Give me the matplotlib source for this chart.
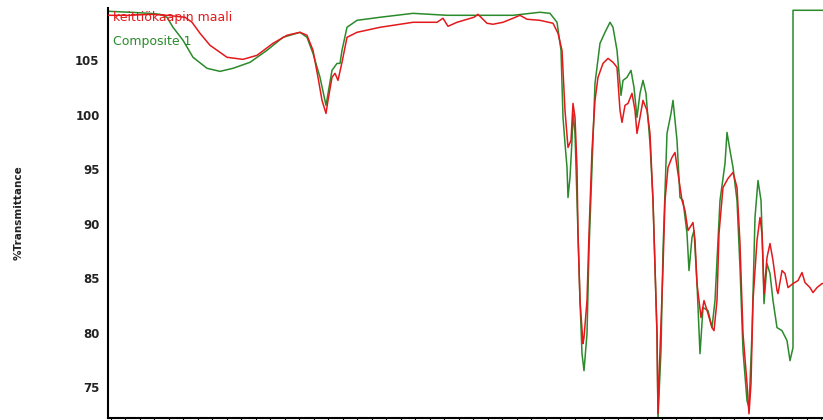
"""
FTIR overlay: kitchen cabinet paint vs. Composite 1
"""

import matplotlib
matplotlib.use("Agg")
import matplotlib.pyplot as plt
from matplotlib.ticker import MultipleLocator

# Wavenumber (cm-1) and %T
paint_wn = [4000, 3890, 3790, 3705, 3615, 3580, 3540, 3490, 3405, 3325, 3255, 3175,
            3105, 3040, 3005, 2975, 2950, 2930, 2910, 2900, 2880, 2865, 2850, 2830,
            2805, 2755, 2640, 2475, 2355, 2325, 2300, 2255, 2170, 2150, 2130, 2105,
            2075, 2025, 1975, 1940, 1905, 1840, 1775, 1750, 1730, 1715, 1700, 1685,
            1675, 1665, 1655, 1650, 1640, 1625, 1620, 1605, 1595, 1580, 1565, 1550,
            1525, 1500, 1475, 1455, 1440, 1430, 1415, 1400, 1380, 1365, 1355, 1340,
            1325, 1305, 1290, 1275, 1265, 1255, 1250, 1240, 1225, 1215, 1200, 1180,
            1165, 1150, 1130, 1115, 1100, 1075, 1065, 1055, 1035, 1020, 1000, 980,
            970, 955, 945, 925, 900, 875, 855, 840, 825, 805, 795, 785, 775, 755,
            740, 730, 720, 705, 690, 675, 655, 650, 630, 615, 600, 575, 550, 530,
            515, 490, 475, 455, 430, 425]
paint_t = [109.13, 109.13, 109.22, 109.13, 108.95, 108.49, 107.48, 106.38, 105.28,
           105.09, 105.46, 106.56, 107.30, 107.57, 107.30, 105.92, 103.44, 101.33,
           100.13, 101.33, 103.44, 103.81, 103.16, 104.82, 107.11, 107.57, 108.03,
           108.49, 108.49, 108.86, 108.12, 108.49, 108.95, 109.22, 108.86, 108.40,
           108.31, 108.49, 108.86, 109.13, 108.77, 108.67, 108.40, 107.48, 105.92,
           100.41, 97.01, 97.66, 101.05, 99.77, 95.18, 89.12, 82.97, 79.02, 79.58,
           82.97, 89.12, 96.74, 101.33, 103.44, 104.72, 105.18, 104.82, 104.36,
           100.41, 99.31, 100.87, 101.05, 101.97, 100.41, 98.30, 99.77, 101.33,
           100.41, 98.30, 92.15, 86.00, 79.94, 72.59, 78.38, 86.00, 92.15, 95.18,
           96.10, 96.55, 94.63, 92.15, 91.23, 89.39, 90.13, 88.48, 84.53, 81.41,
           82.97, 81.77, 80.49, 80.21, 82.97, 89.12, 93.34, 94.17, 94.72, 93.34,
           88.20, 79.94, 75.35, 72.59, 75.35, 82.97, 88.48, 90.59, 89.12, 83.61,
           86.92, 88.20, 86.64, 83.89, 83.61, 85.72, 85.45, 84.16, 84.53, 84.80,
           85.54, 84.62, 84.16, 83.70, 84.16, 84.53, 84.53]

comp_wn = [4000, 3890, 3790, 3740, 3705, 3675, 3625, 3575, 3505, 3440, 3375, 3290,
           3205, 3125, 3040, 3005, 2975, 2940, 2910, 2880, 2855, 2840, 2830, 2805,
           2755, 2640, 2475, 2305, 2140, 1975, 1840, 1790, 1755, 1735, 1725, 1715,
           1705, 1700, 1690, 1680, 1675, 1665, 1655, 1640, 1630, 1620, 1605, 1595,
           1580, 1565, 1540, 1515, 1490, 1475, 1455, 1435, 1425, 1405, 1385, 1370,
           1355, 1340, 1325, 1310, 1290, 1275, 1255, 1250, 1235, 1225, 1205, 1185,
           1175, 1155, 1140, 1125, 1105, 1095, 1080, 1070, 1055, 1040, 1025, 1000,
           980, 965, 940, 915, 905, 890, 875, 855, 840, 825, 805, 795, 780, 765,
           750, 735, 725, 720, 705, 690, 675, 655, 630, 605, 590, 575, 575, 425]
comp_t = [109.50, 109.41, 109.31, 109.22, 108.95, 108.03, 106.84, 105.28, 104.27,
          103.99, 104.27, 104.82, 105.92, 107.11, 107.57, 107.11, 105.64, 103.44,
          100.87, 104.08, 104.72, 104.72, 105.92, 108.03, 108.67, 108.95, 109.31,
          109.13, 109.13, 109.13, 109.41, 109.31, 108.49, 105.92, 99.77, 97.38,
          95.18, 92.42, 94.26, 97.66, 100.13, 98.30, 92.15, 82.97, 78.10, 76.54,
          79.94, 87.56, 95.18, 102.89, 106.56, 107.57, 108.49, 108.03, 105.92,
          101.79, 103.16, 103.44, 104.08, 102.52, 99.77, 101.97, 103.16, 101.97,
          97.38, 92.15, 79.94, 72.23, 78.38, 87.56, 98.30, 100.13, 101.33, 97.66,
          92.42, 92.15, 89.12, 85.72, 88.75, 89.39, 84.53, 78.10, 82.33, 82.05,
          80.49, 82.97, 92.15, 95.54, 98.39, 96.74, 95.18, 92.15, 86.00, 78.38,
          73.79, 73.15, 79.94, 90.59, 93.98, 92.15, 86.64, 82.69, 86.36, 85.45,
          82.97, 80.49, 80.21, 79.30, 77.46, 78.65, 109.59, 109.59]

series_names = ["keittiökaapin maali", "Composite 1"]
series_colors = ["#e3191c", "#2b8a2b"]

fig = plt.figure(figsize=(8.23, 4.20), dpi=100)
ax = fig.add_axes([108 / 823, 2 / 420, 715 / 823, 410 / 420])

ax.plot(comp_wn, comp_t, color=series_colors[1], lw=1.1, zorder=2)
ax.plot(paint_wn, paint_t, color=series_colors[0], lw=1.1, zorder=3)

ax.set_xlim(4000, 425)
ax.set_ylim(72.2, 109.8)

ax.set_yticks([75, 80, 85, 90, 95, 100, 105])
ax.tick_params(axis="y", length=0, pad=6, labelsize=8.5, labelcolor="#222222")
for lbl in ax.get_yticklabels():
    lbl.set_fontweight("bold")

ax.xaxis.set_major_locator(MultipleLocator(72.5))
ax.tick_params(axis="x", direction="out", length=4, width=0.8, labelbottom=False)

for side in ["top", "right"]:
    ax.spines[side].set_visible(False)
ax.spines["left"].set_linewidth(1.5)
ax.spines["bottom"].set_linewidth(1.5)

ax.set_ylabel("%Transmittance", fontsize=7.5, fontweight="bold", color="#222222")
ax.yaxis.set_label_coords(-84 / 715, 0.5)

# series names drawn in the plot's top-left corner
ax.text(5 / 715, 1 - 10 / 410, series_names[0], transform=ax.transAxes,
        color=series_colors[0], fontsize=9, va="center", ha="left")
ax.text(5 / 715, 1 - 33 / 410, series_names[1], transform=ax.transAxes,
        color=series_colors[1], fontsize=9, va="center", ha="left")

fig.savefig("out.png", dpi=100)
